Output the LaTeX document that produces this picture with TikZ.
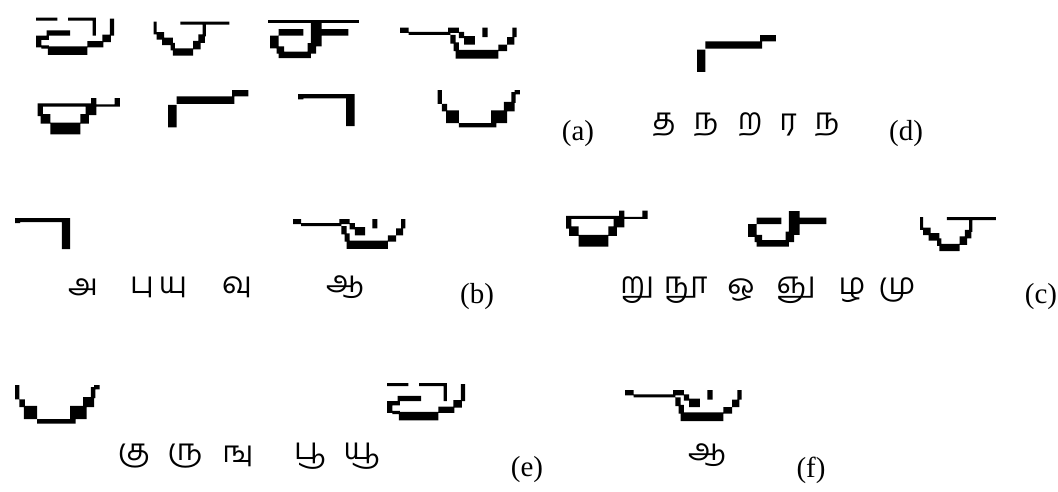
\documentclass[tikz,border=0pt]{standalone}
\usepackage{fontspec}
\setmainfont{Liberation Serif}
\newfontfamily\tamilfont[Script=Tamil]{Hind Madurai}

% stroke bitmaps, pixel units, y downwards
\newcommand{\segA}{\fill[pix] (0,0) rectangle (20,3) (30,0) rectangle (56,3) (53,0) rectangle (56,17)
  (69,1) rectangle (73,17) (62,16) rectangle (70,23) (48,22) rectangle (63,28) (10,12) rectangle (32,17)
  (0,17) rectangle (12,21) (0,17) rectangle (5,28) (5,26) rectangle (12,29) (11,27) rectangle (48,35);}
\newcommand{\segB}{\fill[pix] (0,0) rectangle (3,12) (3,10) rectangle (10,17) (8,15) rectangle (18,22)
  (16,20) rectangle (20,27) (18,25) rectangle (37,32) (37,18) rectangle (44,26) (42,12) rectangle (48,20)
  (46,2) rectangle (49,14) (25,0) rectangle (71,3);}
\newcommand{\segC}{\fill[pix] (10,9) rectangle (33,15) (2,15) rectangle (10,27) (8,25) rectangle (15,32)
  (10,30) rectangle (40,36) (40,3) rectangle (50,25) (37,22) rectangle (45,32) (50,9) rectangle (75,15);}
\newcommand{\segD}{\fill[pix] (0,0) rectangle (8,5) (8,4) rectangle (47,7) (45,0) rectangle (55,5)
  (55,4) rectangle (60,10) (60,8) rectangle (70,16) (47,7) rectangle (52,15) (50,14) rectangle (55,22)
  (52,21) rectangle (92,29) (77,0) rectangle (82,9) (105,0) rectangle (109,9) (100,9) rectangle (107,16)
  (92,16) rectangle (100,22);}
\newcommand{\segE}{\fill[pix] (0,5) rectangle (55,8) (0,5) rectangle (5,17) (3,15) rectangle (12,24)
  (12,23) rectangle (40,34) (40,15) rectangle (48,24) (45,5) rectangle (55,16) (50,0) rectangle (55,8)
  (55,6) rectangle (77,8) (72,0) rectangle (77,8);}
\newcommand{\segF}{\fill[pix] (0,14) rectangle (8,35) (8,6) rectangle (62,13) (60,0) rectangle (75,6);}
\newcommand{\segG}{\fill[pix] (0,0) rectangle (47,4) (0,0) rectangle (5,5) (45,0) rectangle (53,30);}
\newcommand{\segH}{\fill[pix] (0,0) rectangle (4,13) (4,13) rectangle (9,20) (8,19) rectangle (20,31)
  (20,31) rectangle (55,35) (50,19) rectangle (65,31) (62,11) rectangle (72,20) (69,2) rectangle (73,12)
  (72,0) rectangle (77,4);}

\begin{document}
\begin{tikzpicture}[x=1pt, y=-1pt, pix/.style={fill=black}, lab/.style={font=\fontsize{29}{33}\selectfont, inner sep=0pt}, tam/.style={font=\tamilfont\fontsize{30}{34}\selectfont, inner sep=0pt}]
\useasboundingbox (0,0) rectangle (1058,491);
% (a) all strokes
\begin{scope}[shift={(36,17.5)}, scale=1.07]\segA\end{scope}
\begin{scope}[shift={(153.5,21.5)}, scale=1.07]\segB\end{scope}
\begin{scope}[shift={(268,19.5)}, scale=1.07]\segC \fill[pix] (0,0) rectangle (85,3);\end{scope}
\begin{scope}[shift={(400,27.5)}, scale=1.07]\segD\end{scope}
\begin{scope}[shift={(37.5,98)}, scale=1.07]\segE\end{scope}
\begin{scope}[shift={(168,90)}, scale=1.07]\segF\end{scope}
\begin{scope}[shift={(298,94)}, scale=1.07]\segG\end{scope}
\begin{scope}[shift={(437.5,90)}, scale=1.07]\segH\end{scope}
\node[lab] (la) at (578,134) {(a)};
% (d)
\begin{scope}[shift={(697,35)}, scale=1.05]\segF\end{scope}
\node[tam] (d1) at (664,125) {த};
\node[tam] (d2) at (706,125) {ந};
\node[tam] (d3) at (750,125) {ற};
\node[tam] (d4) at (788,125) {ர};
\node[tam] (d5) at (827,125) {ந};
\node[lab] (ld) at (906,134) {(d)};
% (b)
\begin{scope}[shift={(15,218)}, scale=1.04]\segG\end{scope}
\begin{scope}[shift={(293,219)}, scale=1.03]\segD\end{scope}
\node[tam] (b1) at (83,287) {அ};
\node[tam] (b2) at (142,287) {பு};
\node[tam] (b3) at (173,287) {யு};
\node[tam] (b4) at (237,287) {வு};
\node[tam] (b5) at (345,287) {ஆ};
\node[lab] (lb) at (477,297) {(b)};
% (c)
\begin{scope}[shift={(566,210.5)}, scale=1.06]\segE\end{scope}
\begin{scope}[shift={(746,208)}, scale=1.07]\segC\end{scope}
\begin{scope}[shift={(920,217)}, scale=1.07]\segB\end{scope}
\node[tam] (c1) at (637,290) {று};
\node[tam] (c2) at (686,290) {நூ};
\node[tam] (c3) at (741,290) {ஒ};
\node[tam] (c4) at (796,290) {ஞு};
\node[tam] (c5) at (852,290) {ழ};
\node[tam] (c6) at (897,290) {மு};
\node[lab] (lc) at (1041,297) {(c)};
% (e)
\begin{scope}[shift={(15,385)}, scale=1.1]\segH\end{scope}
\begin{scope}[shift={(387,383)}, scale=1.07]\segA\end{scope}
\node[tam] (e1) at (134,456) {கு};
\node[tam] (e2) at (185,456) {ரு};
\node[tam] (e3) at (238,456) {ஙு};
\node[tam] (e4) at (310,456) {பூ};
\node[tam] (e5) at (362,456) {யூ};
\node[lab] (le) at (527,470) {(e)};
% (f)
\begin{scope}[shift={(625,390)}, scale=1.07]\segD\end{scope}
\node[tam] (f1) at (707,455) {ஆ};
\node[lab] (lf) at (811,470) {(f)};
\end{tikzpicture}
\end{document}
